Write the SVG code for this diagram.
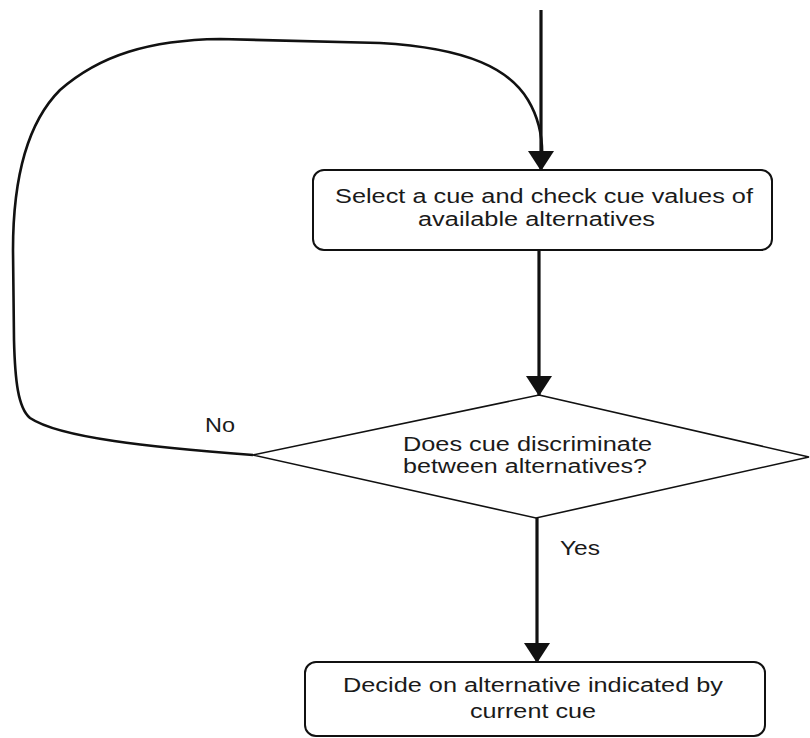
<svg xmlns="http://www.w3.org/2000/svg" width="810" height="738" viewBox="0 0 810 738">
<style>
.box{fill:#fff;stroke:#111;stroke-width:2}
.dia{fill:#fff;stroke:#111;stroke-width:1.6}
.t{font-family:"Liberation Sans",Arial,sans-serif;font-size:20px;fill:#1a1a1a}
.arr{stroke:#111;stroke-width:3.2;fill:none;marker-end:url(#ah)}
.loop{stroke:#111;stroke-width:2.6;fill:none}
</style>
<defs>
<marker id="ah" markerUnits="userSpaceOnUse" markerWidth="20" markerHeight="28" refX="19" refY="13" orient="auto" viewBox="0 0 20 26">
<path d="M0,0 L20,13 L0,26 z" fill="#111"/>
</marker>
</defs>
<g id="connectors">
<path class="loop" d="M253,455 C150,447 60,438 30,418 C18,408 15,380 14,340 L13,250 C13,170 30,120 60,90 C100,55 150,40 220,39 L380,43 C470,48 510,70 528,100 C540,120 543,140 542,160"/>
<line class="arr" x1="541" y1="10" x2="541" y2="170"/>
<line class="arr" x1="539" y1="250" x2="539" y2="395"/>
<line class="arr" x1="537" y1="518" x2="537" y2="662"/>
<text class="t" x="205" y="432" textLength="30" lengthAdjust="spacingAndGlyphs">No</text>
<text class="t" x="560" y="555" textLength="40" lengthAdjust="spacingAndGlyphs">Yes</text>
</g>
<g id="select">
<rect class="box" x="313" y="170" width="459" height="80" rx="11"/>
<text class="t" x="335" y="203" textLength="418" lengthAdjust="spacingAndGlyphs">Select a cue and check cue values of</text>
<text class="t" x="418" y="226" textLength="237" lengthAdjust="spacingAndGlyphs">available alternatives</text>
</g>
<g id="decision">
<polygon class="dia" points="539,395 809,457 536,518 253,455"/>
<text class="t" x="403" y="451" textLength="249" lengthAdjust="spacingAndGlyphs">Does cue discriminate</text>
<text class="t" x="403" y="473" textLength="244" lengthAdjust="spacingAndGlyphs">between alternatives?</text>
</g>
<g id="decide">
<rect class="box" x="305" y="662" width="460" height="74" rx="11"/>
<text class="t" x="343" y="692" textLength="380" lengthAdjust="spacingAndGlyphs">Decide on alternative indicated by</text>
<text class="t" x="470" y="718" textLength="126" lengthAdjust="spacingAndGlyphs">current cue</text>
</g>
</svg>
